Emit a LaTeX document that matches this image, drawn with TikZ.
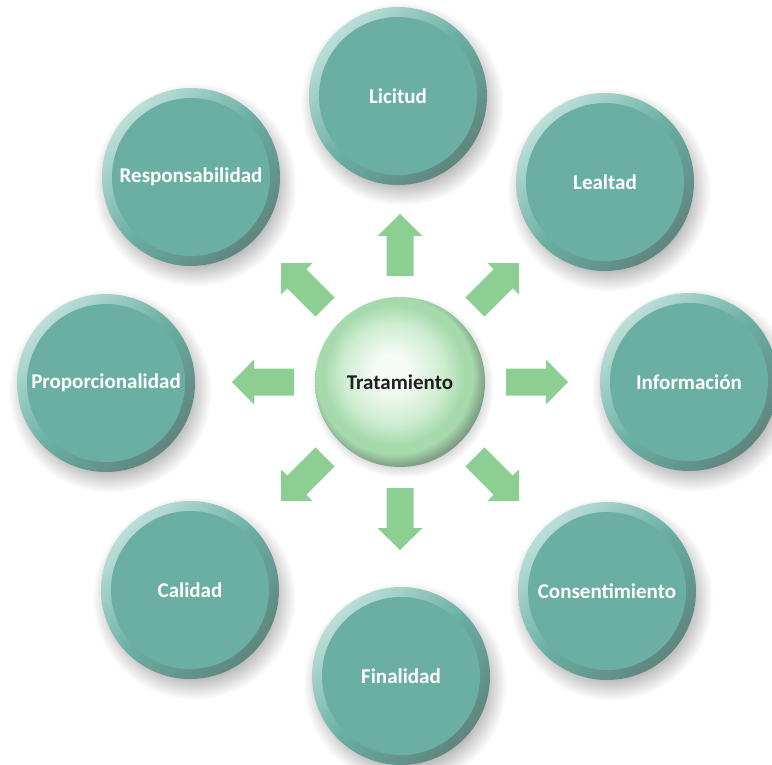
\documentclass[tikz,border=0pt]{standalone}
\usepackage{fontspec}
\setmainfont{Carlito}
\usetikzlibrary{backgrounds}
\definecolor{tealin}{HTML}{6AAFA2}
\definecolor{rimlight}{HTML}{BCDFD8}
\definecolor{rimdark}{HTML}{5F857E}
\definecolor{arrowgreen}{HTML}{8DCF93}
\definecolor{ballwhite}{HTML}{F5FBF5}
\definecolor{ballmid}{HTML}{CDECD0}
\definecolor{balledge}{HTML}{A6DAAD}
\definecolor{balldark}{HTML}{7E9E84}
\definecolor{shadowgray}{HTML}{A8A8A8}
\definecolor{textdark}{HTML}{1F1F1F}
\pgfdeclareradialshading{softshadow}{\pgfpoint{0bp}{0bp}}{color(0bp)=(shadowgray); color(18bp)=(shadowgray); color(25bp)=(white); color(50bp)=(white)}
\pgfdeclareradialshading{ballshade}{\pgfpoint{-3bp}{3.5bp}}{color(0bp)=(ballwhite); color(5bp)=(ballwhite); color(15bp)=(ballmid); color(20.5bp)=(balledge); color(23bp)=(balledge); color(26.5bp)=(balldark); color(50bp)=(balldark)}
\tikzset{
  bub/.style={circle, minimum size=178pt, inner sep=0pt, text=white,
    font=\fontsize{21pt}{25pt}\selectfont\bfseries,
    top color=rimlight, bottom color=rimdark, middle color=tealin, shading angle=45,
    path picture={\fill[tealin] (path picture bounding box.center) circle (79pt);}},
  ball/.style={circle, minimum size=170pt, inner sep=0pt, shade, shading=ballshade,
    text=textdark, font=\fontsize{21pt}{25pt}\selectfont\bfseries},
  blockarrow/.style={fill=arrowgreen}
}
\begin{document}
\begin{tikzpicture}[x=1pt,y=-1pt]
\useasboundingbox (0,0) rectangle (772,765);
\node[ball] (ctr) at (400,382) {Tratamiento};
\node[bub] (lic) at (398,96) {Licitud};
\node[bub] (lea) at (605,182) {Lealtad};
\node[bub] (inf) at (689,382) {Información};
\node[bub] (con) at (607,591) {Consentimiento};
\node[bub] (fin) at (401,676) {Finalidad};
\node[bub] (cal) at (190,590) {Calidad};
\node[bub] (pro) at (106,383) {Proporcionalidad};
\node[bub] (res) at (191,177) {Responsabilidad};
\foreach \a in {0,45,...,315} {
  \fill[blockarrow, shift={(ctr.center)}, rotate=\a]
    (106pt,-13.5pt) -- (146pt,-13.5pt) -- (146pt,-22.5pt) -- (168pt,0pt)
    -- (146pt,22.5pt) -- (146pt,13.5pt) -- (106pt,13.5pt) -- cycle;
}
\begin{scope}[on background layer]
\foreach \n in {lic,lea,inf,con,fin,cal,pro,res}
  \shade[shading=softshadow] ([shift={(4pt,-8pt)}]\n.center) circle (102pt);
\shade[shading=softshadow] ([shift={(2pt,-4pt)}]ctr.center) circle (92pt);
\end{scope}
\end{tikzpicture}
\end{document}
